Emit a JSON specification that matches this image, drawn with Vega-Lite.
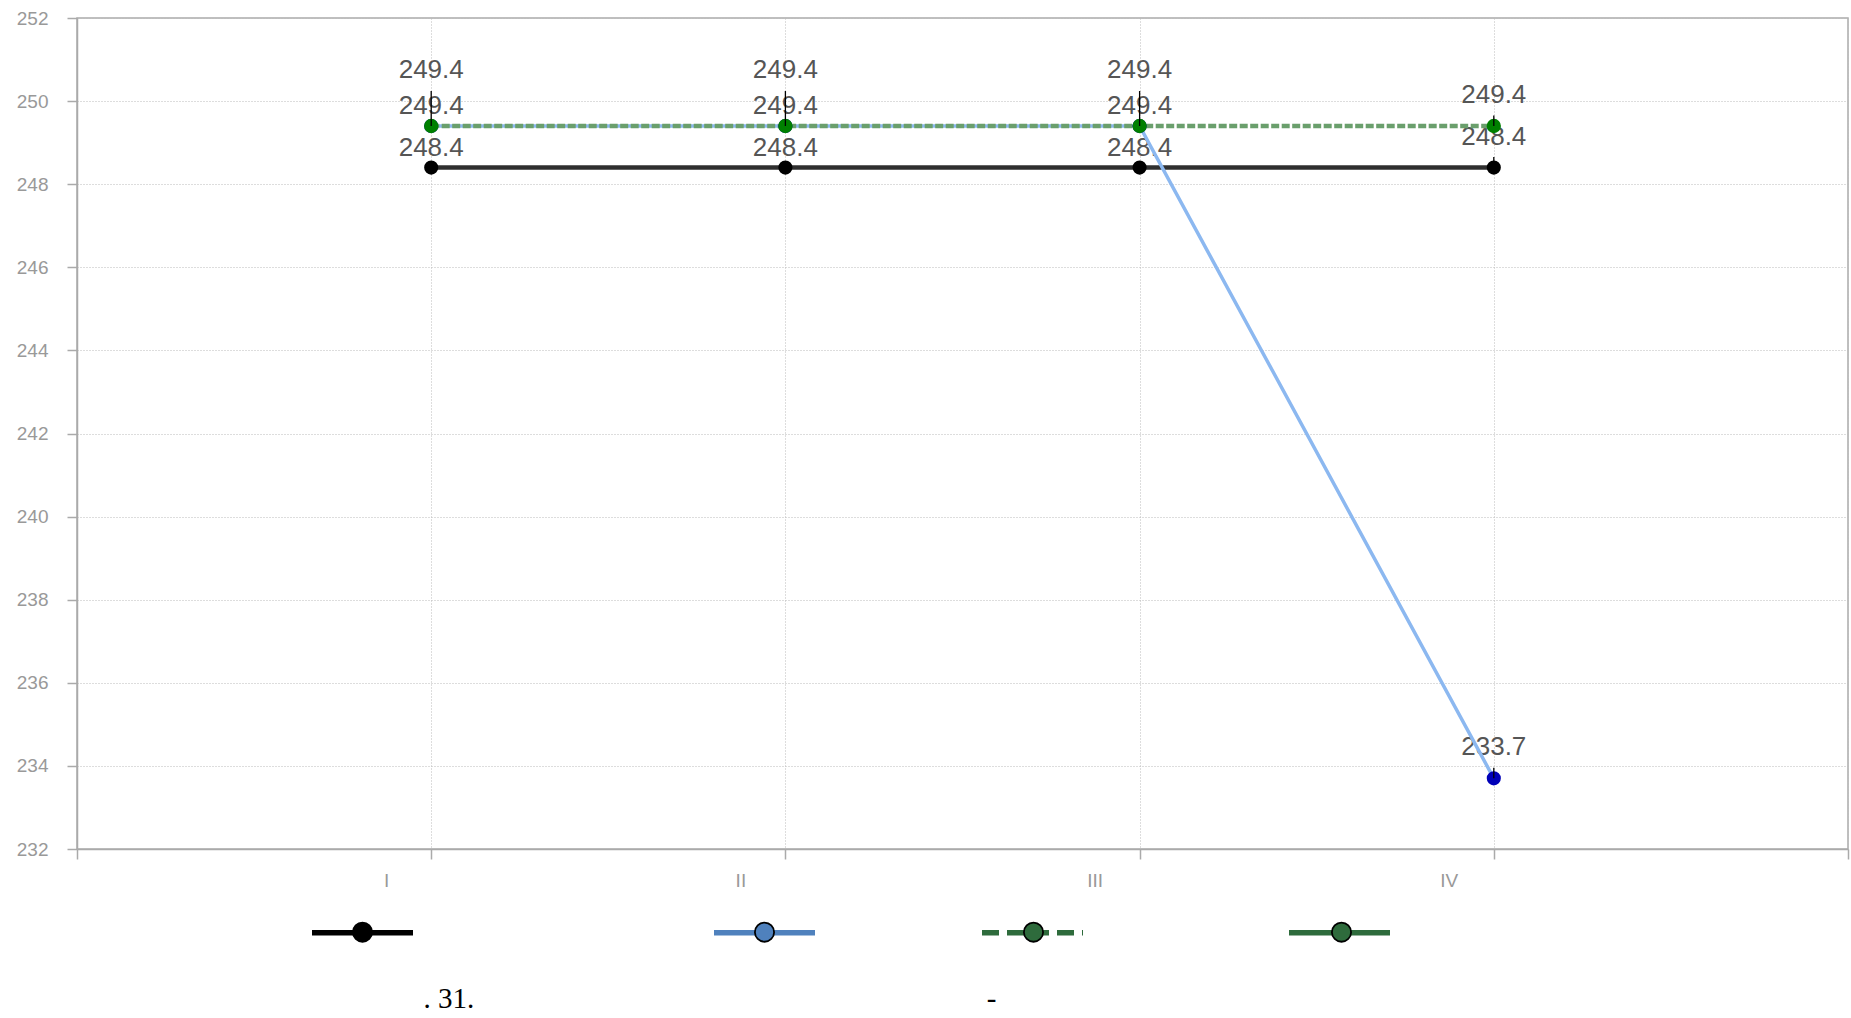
{
  "$schema": "https://vega.github.io/schema/vega-lite/v6.json",
  "width": 1771,
  "height": 831,
  "autosize": {"type": "none"},
  "padding": {"left": 77, "top": 18, "right": 3, "bottom": 169},
  "background": "white",
  "config": {
    "view": {"stroke": "#aaaaaa", "strokeWidth": 1.5},
    "legend": {"padding": 0, "columnPadding": 0, "labelOffset": 0, "labelLimit": 1000, "labelFont": "Liberation Sans", "labelFontSize": 10}
  },
  "data": {
    "values": [
      {"period": 1, "value": 248.4, "series": "s1"},
      {"period": 2, "value": 248.4, "series": "s1"},
      {"period": 3, "value": 248.4, "series": "s1"},
      {"period": 4, "value": 248.4, "series": "s1"},
      {"period": 1, "value": 249.4, "series": "s2"},
      {"period": 2, "value": 249.4, "series": "s2"},
      {"period": 3, "value": 249.4, "series": "s2"},
      {"period": 4, "value": 233.7, "series": "s2"},
      {"period": 1, "value": 249.4, "series": "s3"},
      {"period": 2, "value": 249.4, "series": "s3"},
      {"period": 3, "value": 249.4, "series": "s3"},
      {"period": 4, "value": 249.4, "series": "s3"}
    ]
  },
  "encoding": {
    "x": {
      "field": "period",
      "type": "quantitative",
      "scale": {"domain": [0, 5], "nice": false, "zero": false},
      "axis": {
        "values": [0, 1, 2, 3, 4, 5],
        "labelExpr": "datum.value == 1 ? 'I' : datum.value == 2 ? 'II' : datum.value == 3 ? 'III' : datum.value == 4 ? 'IV' : ''",
        "labelOffset": -45,
        "labelFlush": false,
        "labelOverlap": false,
        "labelFont": "Liberation Sans",
        "labelFontSize": 19,
        "labelColor": "#999999",
        "labelPadding": 12,
        "tickSize": 10,
        "tickColor": "#aaaaaa",
        "tickWidth": 1.5,
        "domainColor": "#aaaaaa",
        "domainWidth": 1.5,
        "grid": true,
        "gridColor": "#bbbbbb",
        "gridDash": [1, 2],
        "gridWidth": 1,
        "title": "-",
        "titleX": 914,
        "titleY": 158,
        "titleAlign": "center",
        "titleBaseline": "alphabetic",
        "titleFont": "Liberation Serif",
        "titleFontSize": 29,
        "titleFontWeight": "normal",
        "titleColor": "#000000"
      }
    },
    "y": {
      "field": "value",
      "type": "quantitative",
      "scale": {"domain": [232, 252], "nice": false, "zero": false},
      "axis": {
        "values": [232, 234, 236, 238, 240, 242, 244, 246, 248, 250, 252],
        "format": "d",
        "labelFont": "Liberation Sans",
        "labelFontSize": 19,
        "labelColor": "#999999",
        "labelPadding": 19,
        "tickSize": 10,
        "tickColor": "#aaaaaa",
        "tickWidth": 1.5,
        "domainColor": "#aaaaaa",
        "domainWidth": 1.5,
        "grid": true,
        "gridColor": "#bbbbbb",
        "gridDash": [1, 2],
        "gridWidth": 1,
        "title": ". 31.",
        "titleAngle": 0,
        "titleX": 346,
        "titleY": 989,
        "titleAlign": "left",
        "titleBaseline": "alphabetic",
        "titleFont": "Liberation Serif",
        "titleFontSize": 29,
        "titleFontWeight": "normal",
        "titleColor": "#000000"
      }
    }
  },
  "layer": [
    {
      "transform": [{"filter": "datum.period < 4 && datum.series != 's2'"}],
      "mark": {"type": "text", "dy": -20, "font": "Liberation Sans", "fontSize": 26, "color": "#555555", "baseline": "middle"},
      "encoding": {"text": {"field": "value", "type": "quantitative", "format": ".1f"}}
    },
    {
      "transform": [{"filter": "datum.period < 4 && datum.series == 's2'"}],
      "mark": {"type": "text", "dy": -56, "font": "Liberation Sans", "fontSize": 26, "color": "#555555", "baseline": "middle"},
      "encoding": {"text": {"field": "value", "type": "quantitative", "format": ".1f"}}
    },
    {
      "transform": [{"filter": "datum.period == 4"}],
      "mark": {"type": "text", "dy": -31, "font": "Liberation Sans", "fontSize": 26, "color": "#555555", "baseline": "middle"},
      "encoding": {"text": {"field": "value", "type": "quantitative", "format": ".1f"}}
    },
    {
      "transform": [{"filter": "datum.series == 's1'"}],
      "mark": {"type": "line", "color": "#2f2f2f", "strokeWidth": 4.5},
      "encoding": {}
    },
    {
      "transform": [{"filter": "datum.series == 's2'"}],
      "mark": {"type": "line", "color": "#8cb8f0", "strokeWidth": 3.5},
      "encoding": {}
    },
    {
      "transform": [{"filter": "datum.series == 's3'"}],
      "mark": {"type": "line", "color": "#6a9f6c", "strokeWidth": 4.5, "strokeDash": [8, 2.5]},
      "encoding": {}
    },
    {
      "transform": [{"filter": "datum.series == 's1'"}],
      "mark": {"type": "point", "filled": true, "color": "#000000", "size": 200, "opacity": 1},
      "encoding": {}
    },
    {
      "transform": [{"filter": "datum.series == 's2'"}],
      "mark": {"type": "point", "filled": true, "color": "#0000b8", "size": 200, "opacity": 1},
      "encoding": {}
    },
    {
      "transform": [{"filter": "datum.series == 's3'"}],
      "mark": {"type": "point", "filled": true, "color": "#008000", "size": 205, "opacity": 1},
      "encoding": {}
    },
    {
      "transform": [{"filter": "datum.period < 4 && datum.series == 's2'"}],
      "mark": {"type": "point", "shape": "M0,0V-1", "size": 4900, "filled": false, "color": "#000000", "strokeWidth": 1.3, "opacity": 1},
      "encoding": {}
    },
    {
      "transform": [{"filter": "datum.period == 4"}],
      "mark": {"type": "point", "shape": "M0,0V-1", "size": 441, "filled": false, "color": "#000000", "strokeWidth": 1.3, "opacity": 1},
      "encoding": {}
    },
    {
      "transform": [{"filter": "false"}],
      "mark": {"type": "line"},
      "encoding": {
        "stroke": {
          "field": "series",
          "type": "nominal",
          "scale": {"domain": ["s1", "s2", "s3", "s4"], "range": ["#000000", "#4f81bd", "#2e6b3c", "#2e6b3c"]},
          "legend": {
            "orient": "none", "legendX": 232, "legendY": 861, "direction": "horizontal", "columns": 4,
            "title": null, "padding": 0, "symbolType": "M-1,0H1", "symbolSize": 10201, "symbolStrokeWidth": 5.5,
            "labelOffset": 0, "columnPadding": 0, "labelLimit": 1000, "labelFont": "Liberation Sans", "labelFontSize": 10,
            "labelExpr": "datum.label == 's1' ? '\u200b' + pad('', 103) + '\u200b' : datum.label == 's2' ? '\u200b' + pad('', 55) + '\u200b' : datum.label == 's3' ? '\u200b' + pad('', 69) + '\u200b' : ''"
          }
        },
        "strokeDash": {
          "field": "series",
          "type": "nominal",
          "scale": {"domain": ["s1", "s2", "s3", "s4"], "range": [[1, 0], [1, 0], [17, 8], [1, 0]]},
          "legend": {
            "orient": "none", "legendX": 232, "legendY": 861, "direction": "horizontal", "columns": 4,
            "title": null, "padding": 0, "symbolType": "M-1,0H1", "symbolSize": 10201, "symbolStrokeWidth": 5.5,
            "labelOffset": 0, "columnPadding": 0, "labelLimit": 1000, "labelFont": "Liberation Sans", "labelFontSize": 10,
            "labelExpr": "datum.label == 's1' ? '\u200b' + pad('', 103) + '\u200b' : datum.label == 's2' ? '\u200b' + pad('', 55) + '\u200b' : datum.label == 's3' ? '\u200b' + pad('', 69) + '\u200b' : ''"
          }
        }
      }
    },
    {
      "transform": [{"filter": "false"}],
      "mark": {"type": "point", "filled": true, "opacity": 1, "stroke": "#000000"},
      "encoding": {
        "fill": {
          "field": "series",
          "type": "nominal",
          "scale": {"domain": ["s1", "s2", "s3", "s4"], "range": ["#000000", "#4f81bd", "#2e6b3c", "#2e6b3c"]},
          "legend": {
            "orient": "none", "legendX": 234, "legendY": 862.5, "direction": "horizontal", "columns": 4,
            "title": null, "padding": 0,
            "symbolType": "M0.19,0A0.19,0.19,0,1,1,-0.19,0A0.19,0.19,0,1,1,0.19,0Z",
            "symbolSize": 10201, "symbolStrokeWidth": 1.8, "symbolStrokeColor": "#000000", "symbolOpacity": 1,
            "labelOffset": 0, "columnPadding": 4, "labelLimit": 1000, "labelFont": "Liberation Sans", "labelFontSize": 10,
            "labelExpr": "datum.label == 's1' ? '\u200b' + pad('', 106) + '\u200b' : datum.label == 's2' ? '\u200b' + pad('', 58) + '\u200b' : datum.label == 's3' ? '\u200b' + pad('', 72) + '\u200b' : ''"
          }
        }
      }
    }
  ],
  "resolve": {"scale": {"fill": "independent"}, "legend": {"fill": "independent"}}
}
